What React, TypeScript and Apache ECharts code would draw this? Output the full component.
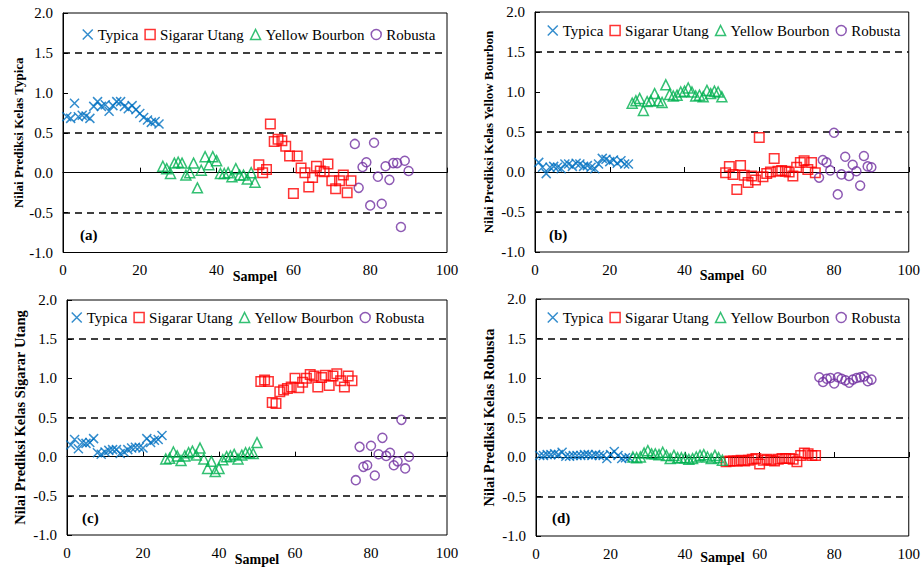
import React, { useEffect, useRef } from "react";
import * as echarts from "echarts";

// ---------- DATA ----------
const seriesNames = ["Typica", "Sigarar Utang", "Yellow Bourbon", "Robusta"];

const typicaSamples = [1, 2, 3, 4, 5, 6, 7, 8, 9, 10, 11, 12, 13, 14, 15, 16, 17, 18, 19, 20, 21, 22, 23, 24, 25];
const yellowBourbonSamples = [26, 27, 28, 29, 30, 31, 32, 33, 34, 35, 36, 37, 38, 39, 40, 41, 42, 43, 44, 45, 46, 47, 48, 49, 50];
const sigararUtangSamples = [51, 52, 53, 54, 55, 56, 57, 58, 59, 60, 61, 62, 63, 64, 65, 66, 67, 68, 69, 70, 71, 72, 73, 74, 75];
const robustaSamples = [76, 77, 78, 79, 80, 81, 82, 83, 84, 85, 86, 87, 88, 89, 90];

// Panel (a) – Kelas Typica
const aTypica = [0.70, 0.68, 0.87, 0.70, 0.72, 0.71, 0.68, 0.83, 0.89, 0.83, 0.85, 0.77, 0.84, 0.89, 0.89, 0.83, 0.80, 0.84, 0.79, 0.74, 0.69, 0.66, 0.63, 0.64, 0.61];
const aYellowBourbon = [0.08, 0.05, -0.01, 0.12, 0.13, 0.12, -0.03, 0.00, 0.12, -0.19, 0.03, 0.20, 0.10, 0.20, 0.15, -0.01, -0.01, 0.00, -0.05, 0.05, -0.03, -0.03, -0.08, 0.00, -0.12];
const aSigararUtang = [0.10, 0.00, 0.04, 0.61, 0.39, 0.42, 0.40, 0.33, 0.21, -0.26, 0.21, 0.06, 0.00, -0.18, -0.06, 0.08, 0.02, 0.01, 0.11, -0.10, -0.20, -0.10, -0.03, -0.25, -0.10];
const aRobusta = [0.36, -0.19, 0.07, 0.13, -0.41, 0.375, -0.05, -0.39, 0.08, -0.09, 0.12, 0.12, -0.68, 0.15, 0.02];

// Panel (b) – Kelas Yellow Bourbon
const bTypica = [0.12, 0.06, -0.02, 0.06, 0.07, 0.06, 0.04, 0.10, 0.10, 0.07, 0.11, 0.10, 0.07, 0.08, 0.06, 0.04, 0.10, 0.17, 0.16, 0.13, 0.15, 0.11, 0.14, 0.10, 0.10];
const bYellowBourbon = [0.86, 0.89, 0.92, 0.77, 0.88, 0.89, 0.98, 0.89, 0.87, 1.09, 0.97, 0.95, 0.96, 1.00, 1.01, 1.05, 1.00, 0.95, 0.96, 0.94, 1.02, 0.98, 1.01, 1.00, 0.94];
const bSigararUtang = [-0.01, 0.07, -0.03, -0.22, 0.08, -0.04, -0.13, -0.05, -0.10, 0.43, -0.06, -0.02, 0.00, 0.17, 0.01, 0.02, 0.01, 0.00, -0.05, 0.06, 0.12, 0.14, 0.03, 0.12, -0.01];
const bRobusta = [-0.07, 0.15, 0.12, 0.02, 0.49, -0.28, -0.03, 0.19, -0.05, 0.09, 0.01, -0.17, 0.20, 0.07, 0.06];

// Panel (c) – Kelas Sigarar Utang
const cTypica = [0.15, 0.22, 0.10, 0.18, 0.17, 0.18, 0.23, 0.05, 0.03, 0.06, 0.08, 0.09, 0.09, 0.04, 0.06, 0.09, 0.11, 0.12, 0.12, 0.11, 0.23, 0.18, 0.21, 0.22, 0.27];
const cYellowBourbon = [-0.03, -0.02, 0.06, 0.01, -0.05, 0.01, 0.05, 0.07, 0.02, 0.11, -0.03, -0.15, -0.06, -0.19, -0.15, -0.04, 0.00, 0.01, 0.03, -0.03, 0.02, 0.05, 0.05, 0.04, 0.18];
const cSigararUtang = [0.96, 0.98, 0.96, 0.69, 0.68, 0.83, 0.85, 0.87, 0.89, 1.00, 0.88, 0.95, 1.00, 1.05, 1.03, 0.89, 1.01, 1.04, 0.91, 1.03, 1.06, 0.97, 0.89, 1.03, 0.97];
const cRobusta = [-0.30, 0.125, -0.13, -0.11, 0.14, -0.24, 0.03, 0.24, 0.01, 0.05, -0.11, -0.06, 0.47, -0.15, 0.00];

// Panel (d) – Kelas Robusta
const dTypica = [0.02, 0.02, 0.03, 0.03, 0.04, 0.03, 0.06, 0.01, 0.01, 0.02, 0.02, 0.02, 0.03, 0.03, 0.02, 0.03, 0.02, 0.02, -0.02, 0.03, 0.07, 0.02, -0.02, -0.01, -0.01];
const dYellowBourbon = [0.00, -0.01, 0.00, 0.05, 0.08, 0.04, 0.04, 0.03, 0.06, 0.02, -0.02, 0.02, -0.01, -0.01, -0.01, -0.03, -0.02, 0.00, 0.02, 0.03, 0.00, -0.02, 0.02, -0.01, -0.04];
const dSigararUtang = [-0.06, -0.05, -0.05, -0.05, -0.04, -0.05, -0.04, -0.03, -0.02, -0.09, -0.04, -0.03, -0.04, -0.05, -0.03, -0.02, -0.02, -0.02, -0.03, -0.06, 0.02, 0.05, 0.04, 0.02, 0.02];
const dRobusta = [1.01, 0.95, 0.99, 1.00, 0.93, 1.01, 0.99, 0.97, 0.94, 0.98, 1.00, 1.01, 1.02, 0.96, 0.98];

const xMin = 0;
const xMax = 100;
const xInterval = 20;
const yMin = -1;
const yMax = 2;
const yInterval = 0.5;
const thresholds = [1.5, 0.5, -0.5];

const yTitles = [
  "Nilai Prediksi Kelas Typica",
  "Nilai Prediksi Kelas Yellow Bourbon",
  "Nilai Prediksi Kelas Sigarar Utang",
  "Nilai Prediksi Kelas Robusta",
];
const xTitle = "Sampel";
const panelLabels = ["(a)", "(b)", "(c)", "(d)"];

const panelData = [
  [aTypica, aSigararUtang, aYellowBourbon, aRobusta],
  [bTypica, bSigararUtang, bYellowBourbon, bRobusta],
  [cTypica, cSigararUtang, cYellowBourbon, cRobusta],
  [dTypica, dSigararUtang, dYellowBourbon, dRobusta],
];
const sampleSets = [typicaSamples, sigararUtangSamples, yellowBourbonSamples, robustaSamples];

// ---------- STYLE / LAYOUT ----------
const FONT = "Liberation Serif";
const colors = ["#0070C0", "#FF0000", "#00B050", "#7030A0"];
const symbols = ["path://M0,0L10,10M10,0L0,10", "rect", "triangle", "circle"];
const symbolSizes = [9, 9.5, 10, 9];

const layouts = [
  { grid: { left: 63, top: 13, width: 384, height: 239.5 }, legend: { left: 82, top: 27 }, yGap: 38, yFs: 13, xGap: 17, label: [80, 236] },
  { grid: { left: 535, top: 12, width: 377, height: 240 }, legend: { left: 547, top: 23 }, yGap: 40, yFs: 13, xGap: 16, label: [549, 236] },
  { grid: { left: 67, top: 300, width: 380, height: 235.5 }, legend: { left: 71, top: 310 }, yGap: 40, yFs: 14.5, xGap: 17, label: [82, 519] },
  { grid: { left: 536, top: 299, width: 376, height: 237 }, legend: { left: 547, top: 310 }, yGap: 40, yFs: 14.5, xGap: 14, label: [552, 519] },
];

function buildOption() {
  const grid: any[] = [];
  const xAxis: any[] = [];
  const yAxis: any[] = [];
  const legend: any[] = [];
  const series: any[] = [];
  const graphic: any[] = [];

  layouts.forEach((lay, p) => {
    grid.push({
      ...lay.grid,
      show: true,
      borderColor: "#000",
      borderWidth: 1,
      backgroundColor: "transparent",
    });
    xAxis.push({
      type: "value",
      gridIndex: p,
      min: xMin,
      max: xMax,
      interval: xInterval,
      name: xTitle,
      nameLocation: "middle",
      nameGap: lay.xGap,
      nameMoveOverlap: false,
      nameTextStyle: { fontFamily: FONT, fontSize: 14, fontWeight: "bold", color: "#000" },
      axisLine: { show: true, lineStyle: { color: "#000", width: 1 } },
      axisTick: { show: true, inside: true, length: 5, lineStyle: { color: "#000" } },
      axisLabel: { fontFamily: FONT, fontSize: 15, color: "#000", margin: 10 },
      splitLine: { show: false },
    });
    yAxis.push({
      type: "value",
      gridIndex: p,
      min: yMin,
      max: yMax,
      interval: yInterval,
      name: yTitles[p],
      nameLocation: "middle",
      nameGap: lay.yGap,
      nameMoveOverlap: false,
      nameTextStyle: { fontFamily: FONT, fontSize: lay.yFs, fontWeight: "bold", color: "#000" },
      axisLine: { show: true, lineStyle: { color: "#000", width: 1 } },
      axisTick: { show: true, inside: true, length: 5, lineStyle: { color: "#000" } },
      axisLabel: {
        fontFamily: FONT,
        fontSize: 15,
        color: "#000",
        margin: 10,
        formatter: (v: number) => v.toFixed(1),
      },
      splitLine: { show: false },
    });
    legend.push({
      left: lay.legend.left,
      top: lay.legend.top,
      padding: 0,
      itemGap: 6,
      itemWidth: 10,
      itemHeight: 10,
      data: seriesNames,
      textStyle: { fontFamily: FONT, fontSize: 15, color: "#000" },
      itemStyle: { borderWidth: 1.5 },
    });
    panelData[p].forEach((vals, s) => {
      const samples = sampleSets[s];
      const ser: any = {
        type: "scatter",
        name: seriesNames[s],
        xAxisIndex: p,
        yAxisIndex: p,
        symbol: symbols[s],
        symbolSize: symbolSizes[s],
        itemStyle: {
          color: "rgba(0,0,0,0)",
          borderColor: colors[s],
          borderWidth: 1.5,
        },
        emphasis: { disabled: true },
        data: vals.map((v, i) => [samples[i], v]),
        z: 3,
      };
      if (s === 0) {
        ser.markLine = {
          silent: true,
          symbol: ["none", "none"],
          label: { show: false },
          lineStyle: { color: "#000", type: [7, 5], width: 1.5 },
          emphasis: { disabled: true },
          data: thresholds.map((t) => ({ yAxis: t })),
          z: 2,
        };
      }
      series.push(ser);
    });
    graphic.push({
      type: "text",
      left: lay.label[0],
      top: lay.label[1] - 9,
      style: {
        text: panelLabels[p],
        fontFamily: FONT,
        fontSize: 15,
        fontWeight: "bold",
        fill: "#000",
      },
    });
  });

  return {
    animation: false,
    backgroundColor: "#fff",
    textStyle: { fontFamily: FONT },
    grid,
    xAxis,
    yAxis,
    legend,
    series,
    graphic,
  };
}

export default function App() {
  const ref = useRef<HTMLDivElement>(null);
  useEffect(() => {
    if (!ref.current) return;
    const chart = echarts.init(ref.current, undefined, { renderer: "svg" });
    chart.setOption(buildOption() as any);
    return () => chart.dispose();
  }, []);
  return (
    <div
      ref={ref}
      style={{ position: "absolute", left: 0, top: 0, width: 923, height: 567, background: "#fff" }}
    />
  );
}
